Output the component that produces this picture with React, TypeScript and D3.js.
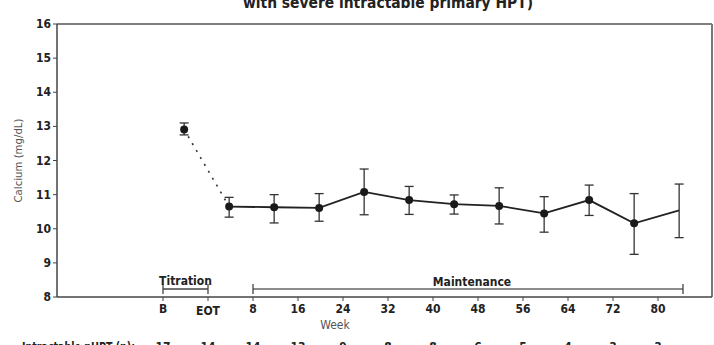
import React from "react";
import * as d3 from "d3";

const tickLabels = ["B", "EOT", "8", "16", "24", "32", "40", "48", "56", "64", "72", "80"];
const nCounts = [17, 14, 14, 13, 9, 8, 8, 6, 5, 4, 3, 3];
const means = [12.91, 10.65, 10.63, 10.61, 11.08, 10.84, 10.72, 10.67, 10.45, 10.84, 10.16, 10.54];
const upper = [13.1, 10.92, 11.0, 11.03, 11.75, 11.24, 10.99, 11.2, 10.94, 11.28, 11.03, 11.31];
const lower = [12.75, 10.34, 10.17, 10.22, 10.41, 10.42, 10.43, 10.14, 9.9, 10.39, 9.25, 9.74];
const hasMarker = [true, true, true, true, true, true, true, true, true, true, true, false];
const yTicks = [8, 9, 10, 11, 12, 13, 14, 15, 16];

const W = 714;
const H = 345;
const left = 57;
const right = 712;
const top = 24;
const bottom = 297;
const pointOffset = 0.47;

const FONT = "'Liberation Sans Narrow', 'Arial Narrow', 'DejaVu Sans Condensed', 'Liberation Sans', sans-serif";

export default function App() {
  const x = d3.scaleLinear().domain([0, 11]).range([163, 658]);
  const y = d3.scaleLinear().domain([8, 16]).range([bottom, top]);
  const px = (i: number) => x(i + pointOffset);

  const solidLine = d3
    .line<number>()
    .x((_, i) => px(i + 1))
    .y((d) => y(d))(means.slice(1));
  const dottedLine = d3
    .line<number>()
    .x((_, i) => px(i))
    .y((d) => y(d))(means.slice(0, 2));

  const bracketY = 289;

  return (
    <div style={{ position: "fixed", left: 0, top: 0 }}>
      <svg width={W} height={H} style={{ display: "block", background: "#fff" }} fontFamily={FONT}>
        <text x={388} y={8} textAnchor="middle" fontSize={15} fontWeight="bold" fill="#222" textLength={290} lengthAdjust="spacingAndGlyphs">
          with severe intractable primary HPT)
        </text>

        {/* frame */}
        <line x1={left} x2={right} y1={top} y2={top} stroke="#555" strokeWidth={1.5} />
        <line x1={right} x2={right} y1={top} y2={bottom} stroke="#777" strokeWidth={2} />
        <line x1={left} x2={left} y1={top} y2={bottom} stroke="#444" strokeWidth={1.5} />
        <line x1={left} x2={right} y1={bottom} y2={bottom} stroke="#444" strokeWidth={1.5} />

        {/* y axis */}
        {yTicks.map((t) => (
          <g key={t}>
            <line x1={left - 4} x2={left} y1={y(t)} y2={y(t)} stroke="#444" strokeWidth={1} />
            <text x={left - 6} y={y(t) + 4} textAnchor="end" fontSize={12} fontWeight="bold" fill="#222">
              {t}
            </text>
          </g>
        ))}
        <text
          transform={`translate(22,${(top + bottom) / 2}) rotate(-90)`}
          textAnchor="middle"
          fontSize={11}
          fill="#555"
          textLength={84}
          lengthAdjust="spacingAndGlyphs"
        >
          Calcium (mg/dL)
        </text>

        {/* x axis */}
        {tickLabels.map((t, i) => (
          <g key={t}>
            <line x1={x(i)} x2={x(i)} y1={bottom} y2={bottom + 4} stroke="#444" strokeWidth={1} />
            <text
              x={x(i)}
              y={t === "EOT" ? 315 : 313}
              textAnchor="middle"
              fontSize={12}
              fontWeight="bold"
              fill="#222"
            >
              {t}
            </text>
            <text x={x(i)} y={351} textAnchor="middle" fontSize={12} fontWeight="bold" fill="#222">
              {nCounts[i]}
            </text>
          </g>
        ))}
        <text x={335} y={329} textAnchor="middle" fontSize={12} fill="#555">
          Week
        </text>
        <text x={22} y={351} fontSize={12} fontWeight="bold" fill="#222" textLength={113} lengthAdjust="spacingAndGlyphs">
          Intractable pHPT (n):
        </text>

        {/* phase brackets */}
        <g stroke="#444" strokeWidth={1.3}>
          <line x1={x(0)} x2={x(1)} y1={bracketY} y2={bracketY} />
          <line x1={x(0)} x2={x(0)} y1={bracketY - 5} y2={bracketY + 5} />
          <line x1={x(1)} x2={x(1)} y1={bracketY - 5} y2={bracketY + 5} />
          <line x1={x(2)} x2={683} y1={bracketY} y2={bracketY} stroke="#666" strokeWidth={1.6} />
          <line x1={x(2)} x2={x(2)} y1={bracketY - 5} y2={bracketY + 5} />
          <line x1={683} x2={683} y1={bracketY - 5} y2={bracketY + 5} />
        </g>
        <text x={(x(0) + x(1)) / 2} y={285} textAnchor="middle" fontSize={12} fontWeight="bold" fill="#222">
          Titration
        </text>
        <text x={472} y={286} textAnchor="middle" fontSize={12} fontWeight="bold" fill="#222">
          Maintenance
        </text>

        {/* lines */}
        <path d={dottedLine || ""} fill="none" stroke="#333" strokeWidth={1.6} strokeDasharray="2,6" />
        <path d={solidLine || ""} fill="none" stroke="#222" strokeWidth={1.8} />

        {/* error bars */}
        {means.map((m, i) => (
          <g key={i} stroke="#333" strokeWidth={1.3}>
            <line x1={px(i)} x2={px(i)} y1={y(upper[i])} y2={y(lower[i])} />
            <line x1={px(i) - 4.5} x2={px(i) + 4.5} y1={y(upper[i])} y2={y(upper[i])} />
            <line x1={px(i) - 4.5} x2={px(i) + 4.5} y1={y(lower[i])} y2={y(lower[i])} />
          </g>
        ))}

        {/* markers */}
        {means.map((m, i) =>
          hasMarker[i] ? <circle key={i} cx={px(i)} cy={y(m)} r={4} fill="#1a1a1a" /> : null
        )}
      </svg>
    </div>
  );
}
